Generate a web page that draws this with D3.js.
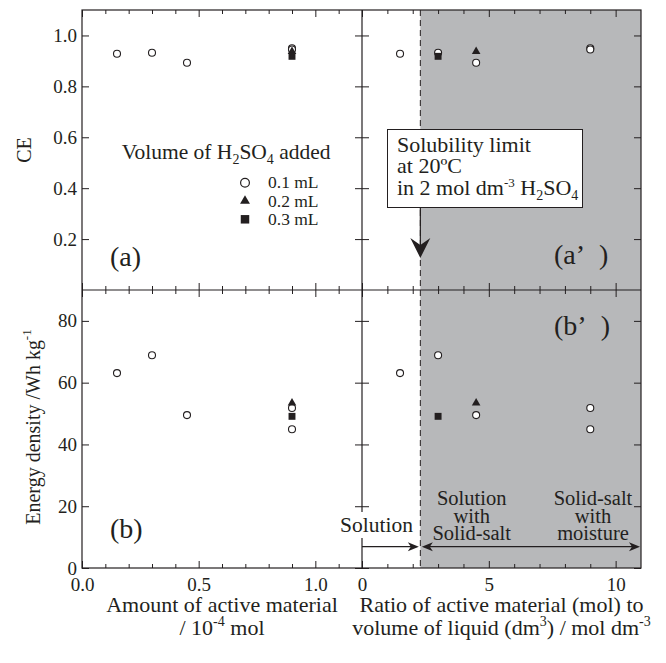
<!DOCTYPE html>
<html><head><meta charset="utf-8">
<script src="https://cdn.jsdelivr.net/npm/d3@7"></script>
<style>
body{margin:0;background:#fff}
svg{display:block}
text{font-family:"Liberation Serif","Times New Roman",serif;fill:#231f20}
</style>
</head><body>
<svg id="c" width="666" height="663"></svg>
<script>
// ---------------- data ----------------
// 0.1 mL H2SO4 added
const amount01 = [0.15, 0.30, 0.45, 0.90, 0.90];
const ratio01  = [1.5, 3.0, 4.5, 9.0, 9.0];
const ce01     = [0.928, 0.932, 0.893, 0.950, 0.945];
const energy01 = [63.1, 68.9, 49.5, 51.8, 44.9];
// 0.2 mL
const amount02 = [0.90];
const ratio02  = [4.5];
const ce02     = [0.937];
const energy02 = [53.4];
// 0.3 mL
const amount03 = [0.90];
const ratio03  = [3.0];
const ce03     = [0.918];
const energy03 = [49.1];

const legendLabels = ["0.1 mL", "0.2 mL", "0.3 mL"];
const ceTicks = [0.2, 0.4, 0.6, 0.8, 1.0];
const energyTicks = [0, 20, 40, 60, 80];
const amountTicks = [0.0, 0.5, 1.0];
const amountMinor = [0.1, 0.2, 0.3, 0.4, 0.6, 0.7, 0.8, 0.9, 1.1];
const ratioTicks = [0, 5, 10];
const ratioMinor = [1, 2, 3, 4, 6, 7, 8, 9];
const solubilityLimit = 2.3;
const ratioMax = 11;

// ---------------- layout ----------------
const svg = d3.select("#c");
const L = 82, M = 362, R = 641, T = 10, H = 290, B = 568;
const INK = "#231f20";
const xL = d3.scaleLinear().domain([0, 1.2]).range([L, M]);
const xR = d3.scaleLinear().domain([0, ratioMax]).range([M, R]);
const yT = d3.scaleLinear().domain([0, 1.1]).range([H, T]);
const yB = d3.scaleLinear().domain([0, 90]).range([B, H]);

// shaded region (solid salt present)
svg.append("rect")
  .attr("x", xR(solubilityLimit)).attr("y", T)
  .attr("width", xR(ratioMax) - xR(solubilityLimit)).attr("height", B - T)
  .attr("fill", "#b7b8ba");

// dashed solubility line
svg.append("line")
  .attr("x1", xR(solubilityLimit)).attr("x2", xR(solubilityLimit))
  .attr("y1", T).attr("y2", B)
  .attr("stroke", INK).attr("stroke-width", 1).attr("stroke-dasharray", "6,4");

// axes helper
function axis(gen, scale, vals, size, tr, fmt, pad) {
  const a = gen(scale).tickValues(vals).tickSizeInner(size).tickSizeOuter(0)
    .tickPadding(pad == null ? 5 : pad).tickFormat(fmt || (() => ""));
  const g = svg.append("g").attr("transform", tr).call(a);
  g.select(".domain").remove();
  g.attr("font-family", '"Liberation Serif","Times New Roman",serif').attr("font-size", 19);
  g.selectAll("line").attr("stroke", INK).attr("stroke-width", 1);
  g.selectAll("text").attr("fill", INK);
  return g;
}
const f1 = d3.format(".1f"), f0 = d3.format("d");

// top-left
axis(d3.axisLeft, yT, ceTicks, -7, `translate(${L},0)`, f1, 5);
axis(d3.axisRight, yT, ceTicks, -7, `translate(${M},0)`);
axis(d3.axisTop, xL, amountTicks, -7, `translate(0,${T})`);
axis(d3.axisTop, xL, amountMinor, -4, `translate(0,${T})`);
axis(d3.axisBottom, xL, amountTicks, -7, `translate(0,${H})`);
axis(d3.axisBottom, xL, amountMinor, -4, `translate(0,${H})`);
// top-right
axis(d3.axisLeft, yT, ceTicks, -7, `translate(${M},0)`);
axis(d3.axisRight, yT, ceTicks, -7, `translate(${R},0)`);
axis(d3.axisTop, xR, ratioTicks, -7, `translate(0,${T})`);
axis(d3.axisTop, xR, ratioMinor, -4, `translate(0,${T})`);
axis(d3.axisBottom, xR, ratioTicks, -7, `translate(0,${H})`);
axis(d3.axisBottom, xR, ratioMinor, -4, `translate(0,${H})`);
// bottom-left
axis(d3.axisLeft, yB, energyTicks, -7, `translate(${L},0)`, f0, 5);
axis(d3.axisRight, yB, energyTicks, -7, `translate(${M},0)`);
axis(d3.axisTop, xL, amountTicks, -7, `translate(0,${H})`);
axis(d3.axisTop, xL, amountMinor, -4, `translate(0,${H})`);
axis(d3.axisBottom, xL, amountTicks, -7, `translate(0,${B})`, f1, 10);
axis(d3.axisBottom, xL, amountMinor, -4, `translate(0,${B})`);
// bottom-right
axis(d3.axisLeft, yB, energyTicks, -7, `translate(${M},0)`);
axis(d3.axisRight, yB, energyTicks, -7, `translate(${R},0)`);
axis(d3.axisTop, xR, ratioTicks, -7, `translate(0,${H})`);
axis(d3.axisTop, xR, ratioMinor, -4, `translate(0,${H})`);
axis(d3.axisBottom, xR, ratioTicks, -7, `translate(0,${B})`, f0, 10);
axis(d3.axisBottom, xR, ratioMinor, -4, `translate(0,${B})`);

// frame
svg.append("rect").attr("x", L).attr("y", T).attr("width", R - L).attr("height", B - T)
  .attr("fill", "none").attr("stroke", INK).attr("stroke-width", 1.2);
svg.append("line").attr("x1", M).attr("x2", M).attr("y1", T).attr("y2", B)
  .attr("stroke", INK).attr("stroke-width", 1.2);
svg.append("line").attr("x1", L).attr("x2", R).attr("y1", H).attr("y2", H)
  .attr("stroke", INK).attr("stroke-width", 1.2);

// ---------------- markers ----------------
const circ = (xs, ys, xsc, ysc) => svg.append("g").selectAll("circle")
  .data(xs.map((x, i) => [x, ys[i]])).join("circle")
  .attr("cx", d => xsc(d[0])).attr("cy", d => ysc(d[1])).attr("r", 3.5)
  .attr("fill", "#fff").attr("stroke", INK).attr("stroke-width", 1.1);
const sym = (type, size, xs, ys, xsc, ysc) => svg.append("g").selectAll("path")
  .data(xs.map((x, i) => [x, ys[i]])).join("path")
  .attr("d", d3.symbol().type(type).size(size))
  .attr("transform", d => `translate(${xsc(d[0])},${ysc(d[1])})`)
  .attr("fill", INK);

circ(amount01, ce01, xL, yT);
circ(ratio01, ce01, xR, yT);
circ(amount01, energy01, xL, yB);
circ(ratio01, energy01, xR, yB);
sym(d3.symbolTriangle, 32, amount02, ce02, xL, yT);
sym(d3.symbolTriangle, 32, ratio02, ce02, xR, yT);
sym(d3.symbolTriangle, 32, amount02, energy02, xL, yB);
sym(d3.symbolTriangle, 32, ratio02, energy02, xR, yB);
sym(d3.symbolSquare, 48, amount03, ce03, xL, yT);
sym(d3.symbolSquare, 48, ratio03, ce03, xR, yT);
sym(d3.symbolSquare, 48, amount03, energy03, xL, yB);
sym(d3.symbolSquare, 48, ratio03, energy03, xR, yB);

// ---------------- legend ----------------
const lt = svg.append("text").attr("x", 121.7).attr("y", 159.3).attr("font-size", 21.5);
lt.append("tspan").text("Volume of H");
lt.append("tspan").text("2").attr("font-size", 14).attr("dy", 5);
lt.append("tspan").text("SO").attr("dy", -5);
lt.append("tspan").text("4").attr("font-size", 14).attr("dy", 5);
lt.append("tspan").text(" added").attr("dy", -5);

const legY = [182.7, 201, 219.3];
svg.append("circle").attr("cx", 245).attr("cy", legY[0]).attr("r", 4.4)
  .attr("fill", "#fff").attr("stroke", INK).attr("stroke-width", 1.2);
svg.append("path").attr("d", d3.symbol().type(d3.symbolTriangle).size(42))
  .attr("transform", `translate(245,${legY[1]})`).attr("fill", INK);
svg.append("path").attr("d", d3.symbol().type(d3.symbolSquare).size(72))
  .attr("transform", `translate(245,${legY[2]})`).attr("fill", INK);
svg.append("g").selectAll("text").data(legendLabels).join("text")
  .attr("x", 268).attr("y", (d, i) => legY[i] + 5.5).attr("font-size", 17.5).text(d => d);

// ---------------- panel labels ----------------
const plab = (x, y, t) => svg.append("text").attr("x", x).attr("y", y).attr("font-size", 28).text(t);
plab(110, 266, "(a)");
plab(554, 264, "(a\u2019\u00a0\u00a0)");
plab(110, 538, "(b)");
plab(554, 335, "(b\u2019\u00a0\u00a0)");

// ---------------- annotation box ----------------
const xs = xR(solubilityLimit);
svg.append("rect").attr("x", 387.5).attr("y", 129.5).attr("width", 195).attr("height", 78)
  .attr("fill", "#fff").attr("stroke", INK).attr("stroke-width", 1);
svg.append("text").attr("x", 397).attr("y", 151.5).attr("font-size", 22).text("Solubility limit");
svg.append("text").attr("x", 397).attr("y", 173).attr("font-size", 22).text("at 20ºC");
const t3 = svg.append("text").attr("x", 397).attr("y", 194.5).attr("font-size", 22);
t3.append("tspan").text("in 2 mol dm");
t3.append("tspan").text("-3").attr("font-size", 13).attr("dy", -8);
t3.append("tspan").text(" H").attr("dy", 8);
t3.append("tspan").text("2").attr("font-size", 14).attr("dy", 5);
t3.append("tspan").text("SO").attr("dy", -5);
t3.append("tspan").text("4").attr("font-size", 14).attr("dy", 5);
svg.append("line").attr("x1", xs).attr("x2", xs).attr("y1", 207.5).attr("y2", 246)
  .attr("stroke", INK).attr("stroke-width", 1.2);
svg.append("path").attr("d", `M${xs},258 L${xs - 10},238 L${xs},245 L${xs + 10},238 Z`).attr("fill", INK);

// ---------------- region labels / arrows ----------------
svg.append("rect").attr("x", 338).attr("y", 512).attr("width", 78).attr("height", 26).attr("fill", "#fff");
svg.append("text").attr("x", 376.5).attr("y", 532).attr("font-size", 21.5).attr("text-anchor", "middle").text("Solution");
const mlab = (cx, lines) => lines.forEach((t, i) =>
  svg.append("text").attr("x", cx).attr("y", 505 + i * 17.5).attr("font-size", 20.5)
    .attr("text-anchor", "middle").text(t));
mlab(471.7, ["Solution", "with", "Solid-salt"]);
mlab(593, ["Solid-salt", "with", "moisture"]);

const ay = 546.7;
const headR = (x) => `M${x},${ay} L${x - 11},${ay - 4.5} L${x - 8},${ay} L${x - 11},${ay + 4.5} Z`;
const headL = (x) => `M${x},${ay} L${x + 11},${ay - 4.5} L${x + 8},${ay} L${x + 11},${ay + 4.5} Z`;
svg.append("line").attr("x1", M).attr("x2", xs - 4).attr("y1", ay).attr("y2", ay).attr("stroke", INK).attr("stroke-width", 1.2);
svg.append("path").attr("d", headR(xs - 1.5)).attr("fill", INK);
svg.append("line").attr("x1", xs + 4).attr("x2", R - 4).attr("y1", ay).attr("y2", ay).attr("stroke", INK).attr("stroke-width", 1.2);
svg.append("path").attr("d", headL(xs + 1.5)).attr("fill", INK);
svg.append("path").attr("d", headR(R - 1)).attr("fill", INK);

// ---------------- axis titles ----------------
svg.append("text").attr("transform", `translate(31,150) rotate(-90)`).attr("font-size", 20)
  .attr("text-anchor", "middle").text("CE");
const et = svg.append("text").attr("transform", `translate(40,427) rotate(-90)`).attr("font-size", 20)
  .attr("text-anchor", "middle");
et.append("tspan").text("Energy density /Wh kg");
et.append("tspan").text("-1").attr("font-size", 13).attr("dy", -9);

const bt = (cx, y, parts) => {
  const t = svg.append("text").attr("x", cx).attr("y", y).attr("font-size", 22).attr("text-anchor", "middle");
  parts.forEach(p => {
    const s = t.append("tspan").text(p[0]);
    if (p[1]) s.attr("font-size", 14).attr("dy", p[1]);
    if (p[2]) s.attr("dy", p[2]);
  });
};
bt((L + M) / 2, 612, [["Amount of active material"]]);
bt((L + M) / 2, 635, [["/ 10"], ["-4", -9], [" mol", 0, 9]]);
bt((M + R) / 2, 612, [["Ratio of active material (mol) to"]]);
bt((M + R) / 2, 635, [["volume of liquid (dm"], ["3", -9], [") / mol dm", 0, 9], ["-3", -9]]);
</script>
</body></html>
